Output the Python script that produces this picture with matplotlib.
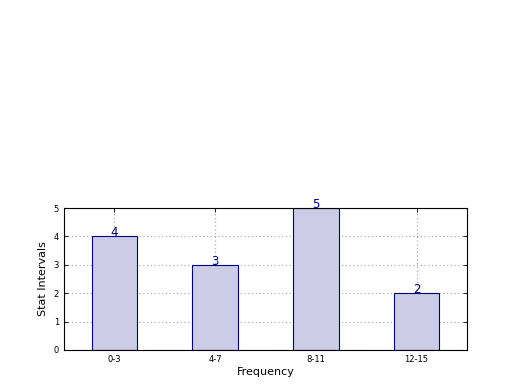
import matplotlib
matplotlib.use("Agg")
import matplotlib.pyplot as plt

# datos
categories = ["0-3", "4-7", "8-11", "12-15"]
counts = [4, 3, 5, 2]

fig = plt.figure(figsize=(5.2, 3.9), dpi=100)
ax = fig.add_axes([0.123, 0.1026, 0.775, 0.364])

pos = list(range(len(categories)))
ax.bar(pos, counts, width=0.45, color="#ccccE6", edgecolor="navy", linewidth=0.8, zorder=2)

# etiquetas encima de las barras
for x, c in zip(pos, counts):
    ax.text(x, c, str(c), ha="center", va="baseline", color="navy", fontsize=8.5, zorder=3)

ax.set_xlim(-0.5, 3.5)
ax.set_ylim(0, 5)
ax.set_xticks(pos)
ax.set_xticklabels(categories, fontsize=6)
ax.set_yticks(range(6))
ax.tick_params(axis="y", labelsize=6)
ax.tick_params(direction="in", length=3, width=0.6, top=True, right=True)
ax.grid(True, linestyle=(0, (1, 2)), color="#b0b0b0", linewidth=0.9, zorder=0)
ax.set_axisbelow(True)
for s in ax.spines.values():
    s.set_linewidth(0.8)

ax.set_xlabel("Frequency", fontsize=8, labelpad=2)
ax.set_ylabel("Stat Intervals", fontsize=8)

fig.savefig("out.png", dpi=100)
